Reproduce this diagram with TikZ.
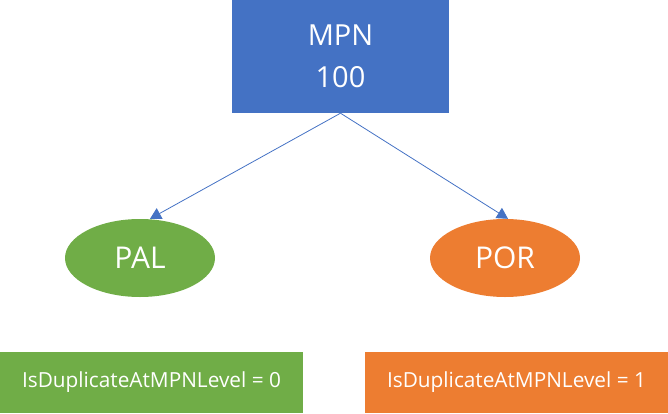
\documentclass[tikz,border=0pt]{standalone}
\usepackage{fontspec}
\setmainfont{Open Sans}
\usetikzlibrary{shapes.geometric,arrows.meta}
\definecolor{cblue}{HTML}{4472C4}
\definecolor{cgreen}{HTML}{70AD47}
\definecolor{corange}{HTML}{ED7D31}
\tikzset{
  box/.style={rectangle, inner sep=0pt, draw=none, text=white, align=center},
  oval/.style={ellipse, inner sep=0pt, draw=none, text=white, minimum width=150pt, minimum height=78pt, font=\fontsize{30}{36}\selectfont},
  link/.style={draw=cblue, line width=0.8pt, -{Triangle[width=12pt,length=11pt]}}
}
\begin{document}
\begin{tikzpicture}[x=1pt,y=1pt]
\useasboundingbox (0,0) rectangle (668,413);
\node[box, fill=cblue, minimum width=217pt, minimum height=113pt, font=\fontsize{29}{42}\selectfont] (top) at (340.5,356.5) {MPN\\100};
\node[oval, fill=cgreen] (pal) at (140,155) {PAL};
\node[oval, fill=corange] (por) at (505,155) {POR};
\node[box, fill=cgreen, minimum width=303pt, minimum height=61pt, font=\fontsize{20.8}{24}\selectfont] (d0) at (151.5,30.5) {IsDuplicateAtMPNLevel = 0};
\node[box, fill=corange, minimum width=303pt, minimum height=61pt, font=\fontsize{20.8}{24}\selectfont] (d1) at (516.5,30.5) {IsDuplicateAtMPNLevel = 1};
\draw[link] (top.south) -- ([xshift=10pt]pal.north);
\draw[link] (top.south) -- ([xshift=3pt]por.north);
\end{tikzpicture}
\end{document}
